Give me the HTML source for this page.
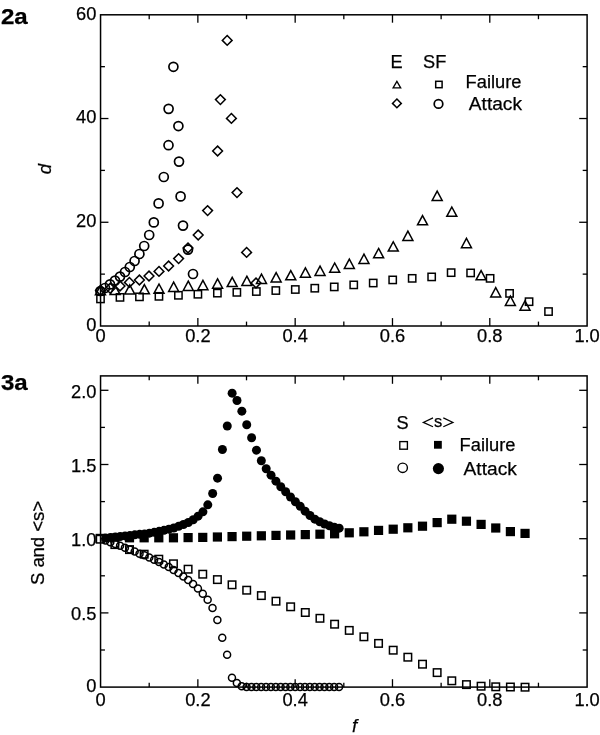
<!DOCTYPE html>
<html><head><meta charset="utf-8"><title>Figure</title>
<style>html,body{margin:0;padding:0;background:#fff;}svg{display:block;will-change:transform;filter:grayscale(1);}text{fill:#000;stroke:#000;stroke-width:0.25px;}</style>
</head><body>
<svg width="600" height="735" viewBox="0 0 600 735">
<rect width="600" height="735" fill="#fff"/>
<rect x="100.55" y="14.80" width="486.55" height="311.20" fill="none" stroke="#000" stroke-width="1.5"/>
<line x1="149.20" y1="326.00" x2="149.20" y2="321.60" stroke="#000" stroke-width="1.3"/>
<line x1="149.20" y1="14.80" x2="149.20" y2="19.20" stroke="#000" stroke-width="1.3"/>
<line x1="197.86" y1="326.00" x2="197.86" y2="318.10" stroke="#000" stroke-width="1.3"/>
<line x1="197.86" y1="14.80" x2="197.86" y2="22.70" stroke="#000" stroke-width="1.3"/>
<line x1="246.51" y1="326.00" x2="246.51" y2="321.60" stroke="#000" stroke-width="1.3"/>
<line x1="246.51" y1="14.80" x2="246.51" y2="19.20" stroke="#000" stroke-width="1.3"/>
<line x1="295.17" y1="326.00" x2="295.17" y2="318.10" stroke="#000" stroke-width="1.3"/>
<line x1="295.17" y1="14.80" x2="295.17" y2="22.70" stroke="#000" stroke-width="1.3"/>
<line x1="343.82" y1="326.00" x2="343.82" y2="321.60" stroke="#000" stroke-width="1.3"/>
<line x1="343.82" y1="14.80" x2="343.82" y2="19.20" stroke="#000" stroke-width="1.3"/>
<line x1="392.48" y1="326.00" x2="392.48" y2="318.10" stroke="#000" stroke-width="1.3"/>
<line x1="392.48" y1="14.80" x2="392.48" y2="22.70" stroke="#000" stroke-width="1.3"/>
<line x1="441.13" y1="326.00" x2="441.13" y2="321.60" stroke="#000" stroke-width="1.3"/>
<line x1="441.13" y1="14.80" x2="441.13" y2="19.20" stroke="#000" stroke-width="1.3"/>
<line x1="489.79" y1="326.00" x2="489.79" y2="318.10" stroke="#000" stroke-width="1.3"/>
<line x1="489.79" y1="14.80" x2="489.79" y2="22.70" stroke="#000" stroke-width="1.3"/>
<line x1="538.45" y1="326.00" x2="538.45" y2="321.60" stroke="#000" stroke-width="1.3"/>
<line x1="538.45" y1="14.80" x2="538.45" y2="19.20" stroke="#000" stroke-width="1.3"/>
<line x1="100.55" y1="274.13" x2="104.95" y2="274.13" stroke="#000" stroke-width="1.3"/>
<line x1="587.10" y1="274.13" x2="582.70" y2="274.13" stroke="#000" stroke-width="1.3"/>
<line x1="100.55" y1="222.27" x2="108.45" y2="222.27" stroke="#000" stroke-width="1.3"/>
<line x1="587.10" y1="222.27" x2="579.20" y2="222.27" stroke="#000" stroke-width="1.3"/>
<line x1="100.55" y1="170.40" x2="104.95" y2="170.40" stroke="#000" stroke-width="1.3"/>
<line x1="587.10" y1="170.40" x2="582.70" y2="170.40" stroke="#000" stroke-width="1.3"/>
<line x1="100.55" y1="118.53" x2="108.45" y2="118.53" stroke="#000" stroke-width="1.3"/>
<line x1="587.10" y1="118.53" x2="579.20" y2="118.53" stroke="#000" stroke-width="1.3"/>
<line x1="100.55" y1="66.67" x2="104.95" y2="66.67" stroke="#000" stroke-width="1.3"/>
<line x1="587.10" y1="66.67" x2="582.70" y2="66.67" stroke="#000" stroke-width="1.3"/>
<text x="96.40" y="330.70" font-size="18.3" text-anchor="end" font-family="Liberation Sans, sans-serif" >0</text>
<text x="96.40" y="226.97" font-size="18.3" text-anchor="end" font-family="Liberation Sans, sans-serif" >20</text>
<text x="96.40" y="123.23" font-size="18.3" text-anchor="end" font-family="Liberation Sans, sans-serif" >40</text>
<text x="96.40" y="19.50" font-size="18.3" text-anchor="end" font-family="Liberation Sans, sans-serif" >60</text>
<text x="100.55" y="342.40" font-size="18.3" text-anchor="middle" font-family="Liberation Sans, sans-serif" >0</text>
<text x="197.86" y="342.40" font-size="18.3" text-anchor="middle" font-family="Liberation Sans, sans-serif" >0.2</text>
<text x="295.17" y="342.40" font-size="18.3" text-anchor="middle" font-family="Liberation Sans, sans-serif" >0.4</text>
<text x="392.48" y="342.40" font-size="18.3" text-anchor="middle" font-family="Liberation Sans, sans-serif" >0.6</text>
<text x="489.79" y="342.40" font-size="18.3" text-anchor="middle" font-family="Liberation Sans, sans-serif" >0.8</text>
<text x="587.10" y="342.40" font-size="18.3" text-anchor="middle" font-family="Liberation Sans, sans-serif" >1.0</text>
<text transform="translate(51,169) rotate(-90)" font-size="18.6" font-style="italic" text-anchor="middle" font-family="Liberation Sans, sans-serif">d</text>
<text x="0.9" y="23.9" font-size="22" font-weight="bold" font-family="Liberation Sans, sans-serif" stroke="#000" stroke-width="1.1" textLength="26.8" lengthAdjust="spacingAndGlyphs">2a</text>
<rect x="96.85" y="295.28" width="7.30" height="7.30" fill="none" stroke="#000" stroke-width="1.5"/>
<rect x="116.33" y="293.72" width="7.30" height="7.30" fill="none" stroke="#000" stroke-width="1.5"/>
<rect x="135.81" y="293.20" width="7.30" height="7.30" fill="none" stroke="#000" stroke-width="1.5"/>
<rect x="155.29" y="292.69" width="7.30" height="7.30" fill="none" stroke="#000" stroke-width="1.5"/>
<rect x="174.77" y="291.65" width="7.30" height="7.30" fill="none" stroke="#000" stroke-width="1.5"/>
<rect x="194.25" y="290.61" width="7.30" height="7.30" fill="none" stroke="#000" stroke-width="1.5"/>
<rect x="213.73" y="289.48" width="7.30" height="7.30" fill="none" stroke="#000" stroke-width="1.5"/>
<rect x="233.21" y="288.71" width="7.30" height="7.30" fill="none" stroke="#000" stroke-width="1.5"/>
<rect x="252.69" y="287.88" width="7.30" height="7.30" fill="none" stroke="#000" stroke-width="1.5"/>
<rect x="272.17" y="286.89" width="7.30" height="7.30" fill="none" stroke="#000" stroke-width="1.5"/>
<rect x="291.65" y="285.85" width="7.30" height="7.30" fill="none" stroke="#000" stroke-width="1.5"/>
<rect x="311.13" y="284.56" width="7.30" height="7.30" fill="none" stroke="#000" stroke-width="1.5"/>
<rect x="330.61" y="283.26" width="7.30" height="7.30" fill="none" stroke="#000" stroke-width="1.5"/>
<rect x="350.09" y="281.24" width="7.30" height="7.30" fill="none" stroke="#000" stroke-width="1.5"/>
<rect x="369.57" y="279.37" width="7.30" height="7.30" fill="none" stroke="#000" stroke-width="1.5"/>
<rect x="389.05" y="276.26" width="7.30" height="7.30" fill="none" stroke="#000" stroke-width="1.5"/>
<rect x="408.53" y="274.70" width="7.30" height="7.30" fill="none" stroke="#000" stroke-width="1.5"/>
<rect x="428.01" y="273.25" width="7.30" height="7.30" fill="none" stroke="#000" stroke-width="1.5"/>
<rect x="447.49" y="269.00" width="7.30" height="7.30" fill="none" stroke="#000" stroke-width="1.5"/>
<rect x="466.97" y="269.26" width="7.30" height="7.30" fill="none" stroke="#000" stroke-width="1.5"/>
<rect x="486.45" y="274.70" width="7.30" height="7.30" fill="none" stroke="#000" stroke-width="1.5"/>
<rect x="505.93" y="289.74" width="7.30" height="7.30" fill="none" stroke="#000" stroke-width="1.5"/>
<rect x="525.41" y="298.04" width="7.30" height="7.30" fill="none" stroke="#000" stroke-width="1.5"/>
<rect x="544.89" y="307.90" width="7.30" height="7.30" fill="none" stroke="#000" stroke-width="1.5"/>
<path d="M100.45 285.57L105.45 294.87L95.45 294.87Z" fill="none" stroke="#000" stroke-width="1.5" stroke-linejoin="miter"/>
<path d="M115.09 285.31L120.09 294.61L110.09 294.61Z" fill="none" stroke="#000" stroke-width="1.5" stroke-linejoin="miter"/>
<path d="M129.73 284.79L134.73 294.09L124.73 294.09Z" fill="none" stroke="#000" stroke-width="1.5" stroke-linejoin="miter"/>
<path d="M144.37 284.53L149.37 293.83L139.37 293.83Z" fill="none" stroke="#000" stroke-width="1.5" stroke-linejoin="miter"/>
<path d="M159.01 284.01L164.01 293.31L154.01 293.31Z" fill="none" stroke="#000" stroke-width="1.5" stroke-linejoin="miter"/>
<path d="M173.65 282.20L178.65 291.50L168.65 291.50Z" fill="none" stroke="#000" stroke-width="1.5" stroke-linejoin="miter"/>
<path d="M188.29 281.16L193.29 290.46L183.29 290.46Z" fill="none" stroke="#000" stroke-width="1.5" stroke-linejoin="miter"/>
<path d="M202.93 280.38L207.93 289.68L197.93 289.68Z" fill="none" stroke="#000" stroke-width="1.5" stroke-linejoin="miter"/>
<path d="M217.57 278.83L222.57 288.13L212.57 288.13Z" fill="none" stroke="#000" stroke-width="1.5" stroke-linejoin="miter"/>
<path d="M232.21 277.27L237.21 286.57L227.21 286.57Z" fill="none" stroke="#000" stroke-width="1.5" stroke-linejoin="miter"/>
<path d="M246.85 276.23L251.85 285.53L241.85 285.53Z" fill="none" stroke="#000" stroke-width="1.5" stroke-linejoin="miter"/>
<path d="M261.49 274.16L266.49 283.46L256.49 283.46Z" fill="none" stroke="#000" stroke-width="1.5" stroke-linejoin="miter"/>
<path d="M276.13 272.60L281.13 281.90L271.13 281.90Z" fill="none" stroke="#000" stroke-width="1.5" stroke-linejoin="miter"/>
<path d="M290.77 270.53L295.77 279.83L285.77 279.83Z" fill="none" stroke="#000" stroke-width="1.5" stroke-linejoin="miter"/>
<path d="M305.41 267.93L310.41 277.23L300.41 277.23Z" fill="none" stroke="#000" stroke-width="1.5" stroke-linejoin="miter"/>
<path d="M320.05 266.12L325.05 275.42L315.05 275.42Z" fill="none" stroke="#000" stroke-width="1.5" stroke-linejoin="miter"/>
<path d="M334.69 263.01L339.69 272.31L329.69 272.31Z" fill="none" stroke="#000" stroke-width="1.5" stroke-linejoin="miter"/>
<path d="M349.33 259.12L354.33 268.42L344.33 268.42Z" fill="none" stroke="#000" stroke-width="1.5" stroke-linejoin="miter"/>
<path d="M363.97 254.19L368.97 263.49L358.97 263.49Z" fill="none" stroke="#000" stroke-width="1.5" stroke-linejoin="miter"/>
<path d="M378.61 248.48L383.61 257.78L373.61 257.78Z" fill="none" stroke="#000" stroke-width="1.5" stroke-linejoin="miter"/>
<path d="M393.25 241.74L398.25 251.04L388.25 251.04Z" fill="none" stroke="#000" stroke-width="1.5" stroke-linejoin="miter"/>
<path d="M407.89 231.11L412.89 240.41L402.89 240.41Z" fill="none" stroke="#000" stroke-width="1.5" stroke-linejoin="miter"/>
<path d="M422.53 215.55L427.53 224.85L417.53 224.85Z" fill="none" stroke="#000" stroke-width="1.5" stroke-linejoin="miter"/>
<path d="M437.17 191.17L442.17 200.47L432.17 200.47Z" fill="none" stroke="#000" stroke-width="1.5" stroke-linejoin="miter"/>
<path d="M451.81 206.99L456.81 216.29L446.81 216.29Z" fill="none" stroke="#000" stroke-width="1.5" stroke-linejoin="miter"/>
<path d="M466.45 238.37L471.45 247.67L461.45 247.67Z" fill="none" stroke="#000" stroke-width="1.5" stroke-linejoin="miter"/>
<path d="M481.09 270.53L486.09 279.83L476.09 279.83Z" fill="none" stroke="#000" stroke-width="1.5" stroke-linejoin="miter"/>
<path d="M495.73 287.64L500.73 296.94L490.73 296.94Z" fill="none" stroke="#000" stroke-width="1.5" stroke-linejoin="miter"/>
<path d="M510.37 296.20L515.37 305.50L505.37 305.50Z" fill="none" stroke="#000" stroke-width="1.5" stroke-linejoin="miter"/>
<path d="M525.01 300.87L530.01 310.17L520.01 310.17Z" fill="none" stroke="#000" stroke-width="1.5" stroke-linejoin="miter"/>
<path d="M100.50 285.50L105.40 290.40L100.50 295.30L95.60 290.40Z" fill="none" stroke="#000" stroke-width="1.5" stroke-linejoin="miter"/>
<path d="M110.20 283.40L115.10 288.30L110.20 293.20L105.30 288.30Z" fill="none" stroke="#000" stroke-width="1.5" stroke-linejoin="miter"/>
<path d="M120.00 281.10L124.90 286.00L120.00 290.90L115.10 286.00Z" fill="none" stroke="#000" stroke-width="1.5" stroke-linejoin="miter"/>
<path d="M129.40 277.50L134.30 282.40L129.40 287.30L124.50 282.40Z" fill="none" stroke="#000" stroke-width="1.5" stroke-linejoin="miter"/>
<path d="M139.40 275.10L144.30 280.00L139.40 284.90L134.50 280.00Z" fill="none" stroke="#000" stroke-width="1.5" stroke-linejoin="miter"/>
<path d="M149.00 271.10L153.90 276.00L149.00 280.90L144.10 276.00Z" fill="none" stroke="#000" stroke-width="1.5" stroke-linejoin="miter"/>
<path d="M159.00 266.50L163.90 271.40L159.00 276.30L154.10 271.40Z" fill="none" stroke="#000" stroke-width="1.5" stroke-linejoin="miter"/>
<path d="M168.60 261.10L173.50 266.00L168.60 270.90L163.70 266.00Z" fill="none" stroke="#000" stroke-width="1.5" stroke-linejoin="miter"/>
<path d="M178.60 253.70L183.50 258.60L178.60 263.50L173.70 258.60Z" fill="none" stroke="#000" stroke-width="1.5" stroke-linejoin="miter"/>
<path d="M188.00 243.10L192.90 248.00L188.00 252.90L183.10 248.00Z" fill="none" stroke="#000" stroke-width="1.5" stroke-linejoin="miter"/>
<path d="M198.20 230.10L203.10 235.00L198.20 239.90L193.30 235.00Z" fill="none" stroke="#000" stroke-width="1.5" stroke-linejoin="miter"/>
<path d="M207.60 205.70L212.50 210.60L207.60 215.50L202.70 210.60Z" fill="none" stroke="#000" stroke-width="1.5" stroke-linejoin="miter"/>
<path d="M217.60 146.10L222.50 151.00L217.60 155.90L212.70 151.00Z" fill="none" stroke="#000" stroke-width="1.5" stroke-linejoin="miter"/>
<path d="M220.40 94.70L225.30 99.60L220.40 104.50L215.50 99.60Z" fill="none" stroke="#000" stroke-width="1.5" stroke-linejoin="miter"/>
<path d="M227.20 35.50L232.10 40.40L227.20 45.30L222.30 40.40Z" fill="none" stroke="#000" stroke-width="1.5" stroke-linejoin="miter"/>
<path d="M231.40 113.50L236.30 118.40L231.40 123.30L226.50 118.40Z" fill="none" stroke="#000" stroke-width="1.5" stroke-linejoin="miter"/>
<path d="M237.00 187.70L241.90 192.60L237.00 197.50L232.10 192.60Z" fill="none" stroke="#000" stroke-width="1.5" stroke-linejoin="miter"/>
<path d="M246.60 247.50L251.50 252.40L246.60 257.30L241.70 252.40Z" fill="none" stroke="#000" stroke-width="1.5" stroke-linejoin="miter"/>
<path d="M256.00 278.10L260.90 283.00L256.00 287.90L251.10 283.00Z" fill="none" stroke="#000" stroke-width="1.5" stroke-linejoin="miter"/>
<circle cx="100.40" cy="291.00" r="4.50" fill="none" stroke="#000" stroke-width="1.7"/>
<circle cx="105.00" cy="288.00" r="4.50" fill="none" stroke="#000" stroke-width="1.7"/>
<circle cx="110.00" cy="284.40" r="4.50" fill="none" stroke="#000" stroke-width="1.7"/>
<circle cx="115.00" cy="280.60" r="4.50" fill="none" stroke="#000" stroke-width="1.7"/>
<circle cx="120.00" cy="276.60" r="4.50" fill="none" stroke="#000" stroke-width="1.7"/>
<circle cx="125.00" cy="272.00" r="4.50" fill="none" stroke="#000" stroke-width="1.7"/>
<circle cx="129.80" cy="267.00" r="4.50" fill="none" stroke="#000" stroke-width="1.7"/>
<circle cx="134.60" cy="261.00" r="4.50" fill="none" stroke="#000" stroke-width="1.7"/>
<circle cx="139.40" cy="254.00" r="4.50" fill="none" stroke="#000" stroke-width="1.7"/>
<circle cx="144.20" cy="246.00" r="4.50" fill="none" stroke="#000" stroke-width="1.7"/>
<circle cx="149.20" cy="235.00" r="4.50" fill="none" stroke="#000" stroke-width="1.7"/>
<circle cx="153.80" cy="222.40" r="4.50" fill="none" stroke="#000" stroke-width="1.7"/>
<circle cx="158.60" cy="203.40" r="4.50" fill="none" stroke="#000" stroke-width="1.7"/>
<circle cx="163.80" cy="177.00" r="4.50" fill="none" stroke="#000" stroke-width="1.7"/>
<circle cx="168.50" cy="145.20" r="4.50" fill="none" stroke="#000" stroke-width="1.7"/>
<circle cx="168.60" cy="108.85" r="4.50" fill="none" stroke="#000" stroke-width="1.7"/>
<circle cx="173.40" cy="66.80" r="4.50" fill="none" stroke="#000" stroke-width="1.7"/>
<circle cx="178.40" cy="126.05" r="4.50" fill="none" stroke="#000" stroke-width="1.7"/>
<circle cx="179.00" cy="161.60" r="4.50" fill="none" stroke="#000" stroke-width="1.7"/>
<circle cx="180.60" cy="196.40" r="4.50" fill="none" stroke="#000" stroke-width="1.7"/>
<circle cx="183.00" cy="225.60" r="4.50" fill="none" stroke="#000" stroke-width="1.7"/>
<circle cx="188.00" cy="249.60" r="4.50" fill="none" stroke="#000" stroke-width="1.7"/>
<circle cx="193.00" cy="274.00" r="4.50" fill="none" stroke="#000" stroke-width="1.7"/>
<text x="390.50" y="68.10" font-size="18.2" text-anchor="start" font-family="Liberation Sans, sans-serif" >E</text>
<text x="423.00" y="68.10" font-size="18.2" text-anchor="start" font-family="Liberation Sans, sans-serif" >SF</text>
<text x="465.60" y="88.00" font-size="18.3" text-anchor="start" font-family="Liberation Sans, sans-serif" >Failure</text>
<text x="468.80" y="110.30" font-size="18.3" text-anchor="start" font-family="Liberation Sans, sans-serif" textLength="53.2" lengthAdjust="spacingAndGlyphs">Attack</text>
<path d="M396.9 81.3L400.7 87.85L393.1 87.85Z" fill="none" stroke="#000" stroke-width="1.3"/>
<rect x="435.70" y="81.30" width="6.40" height="6.40" fill="none" stroke="#000" stroke-width="1.5"/>
<path d="M396.90 99.00L401.30 103.40L396.90 107.80L392.50 103.40Z" fill="none" stroke="#000" stroke-width="1.5" stroke-linejoin="miter"/>
<circle cx="438.50" cy="103.90" r="4.30" fill="none" stroke="#000" stroke-width="1.7"/>
<text x="96.40" y="691.70" font-size="18.3" text-anchor="end" font-family="Liberation Sans, sans-serif" >0</text>
<text x="96.40" y="620.20" font-size="18.3" text-anchor="end" font-family="Liberation Sans, sans-serif" >0.5</text>
<text x="96.40" y="545.50" font-size="18.3" text-anchor="end" font-family="Liberation Sans, sans-serif" >1.0</text>
<text x="96.40" y="471.60" font-size="18.3" text-anchor="end" font-family="Liberation Sans, sans-serif" >1.5</text>
<text x="96.40" y="397.70" font-size="18.3" text-anchor="end" font-family="Liberation Sans, sans-serif" >2.0</text>
<text x="100.55" y="706.20" font-size="18.3" text-anchor="middle" font-family="Liberation Sans, sans-serif" >0</text>
<text x="197.86" y="706.20" font-size="18.3" text-anchor="middle" font-family="Liberation Sans, sans-serif" >0.2</text>
<text x="295.17" y="706.20" font-size="18.3" text-anchor="middle" font-family="Liberation Sans, sans-serif" >0.4</text>
<text x="392.48" y="706.20" font-size="18.3" text-anchor="middle" font-family="Liberation Sans, sans-serif" >0.6</text>
<text x="489.79" y="706.20" font-size="18.3" text-anchor="middle" font-family="Liberation Sans, sans-serif" >0.8</text>
<text x="587.10" y="706.20" font-size="18.3" text-anchor="middle" font-family="Liberation Sans, sans-serif" >1.0</text>
<text x="352" y="732" font-size="18.6" font-style="italic" font-family="Liberation Sans, sans-serif">f</text>
<text transform="translate(44,543) rotate(-90)" font-size="18.6" text-anchor="middle" font-family="Liberation Sans, sans-serif" textLength="84" lengthAdjust="spacing">S and &lt;s&gt;</text>
<text x="0.9" y="389.7" font-size="22" font-weight="bold" font-family="Liberation Sans, sans-serif" stroke="#000" stroke-width="1.1" textLength="26.8" lengthAdjust="spacingAndGlyphs">3a</text>
<rect x="95.60" y="533.80" width="9.20" height="9.20" fill="#000" />
<rect x="110.25" y="533.60" width="9.20" height="9.20" fill="#000" />
<rect x="124.90" y="533.20" width="9.20" height="9.20" fill="#000" />
<rect x="139.55" y="533.20" width="9.20" height="9.20" fill="#000" />
<rect x="154.20" y="533.20" width="9.20" height="9.20" fill="#000" />
<rect x="168.85" y="533.20" width="9.20" height="9.20" fill="#000" />
<rect x="183.50" y="533.00" width="9.20" height="9.20" fill="#000" />
<rect x="198.15" y="532.80" width="9.20" height="9.20" fill="#000" />
<rect x="212.80" y="532.40" width="9.20" height="9.20" fill="#000" />
<rect x="227.45" y="532.00" width="9.20" height="9.20" fill="#000" />
<rect x="242.10" y="531.60" width="9.20" height="9.20" fill="#000" />
<rect x="256.75" y="531.20" width="9.20" height="9.20" fill="#000" />
<rect x="271.40" y="530.80" width="9.20" height="9.20" fill="#000" />
<rect x="286.05" y="530.40" width="9.20" height="9.20" fill="#000" />
<rect x="300.70" y="530.00" width="9.20" height="9.20" fill="#000" />
<rect x="315.35" y="529.60" width="9.20" height="9.20" fill="#000" />
<rect x="330.00" y="529.20" width="9.20" height="9.20" fill="#000" />
<rect x="344.65" y="528.20" width="9.20" height="9.20" fill="#000" />
<rect x="359.30" y="527.20" width="9.20" height="9.20" fill="#000" />
<rect x="373.95" y="525.80" width="9.20" height="9.20" fill="#000" />
<rect x="388.60" y="524.60" width="9.20" height="9.20" fill="#000" />
<rect x="403.25" y="523.20" width="9.20" height="9.20" fill="#000" />
<rect x="417.90" y="521.60" width="9.20" height="9.20" fill="#000" />
<rect x="432.55" y="518.00" width="9.20" height="9.20" fill="#000" />
<rect x="447.20" y="514.60" width="9.20" height="9.20" fill="#000" />
<rect x="461.85" y="516.60" width="9.20" height="9.20" fill="#000" />
<rect x="476.50" y="519.80" width="9.20" height="9.20" fill="#000" />
<rect x="491.15" y="523.40" width="9.20" height="9.20" fill="#000" />
<rect x="505.80" y="527.00" width="9.20" height="9.20" fill="#000" />
<rect x="520.45" y="528.80" width="9.20" height="9.20" fill="#000" />
<rect x="96.45" y="535.45" width="7.50" height="7.50" fill="#fff" stroke="#000" stroke-width="1.5"/>
<rect x="111.10" y="540.85" width="7.50" height="7.50" fill="#fff" stroke="#000" stroke-width="1.5"/>
<rect x="125.75" y="545.85" width="7.50" height="7.50" fill="#fff" stroke="#000" stroke-width="1.5"/>
<rect x="140.40" y="550.45" width="7.50" height="7.50" fill="#fff" stroke="#000" stroke-width="1.5"/>
<rect x="155.05" y="555.45" width="7.50" height="7.50" fill="#fff" stroke="#000" stroke-width="1.5"/>
<rect x="169.70" y="560.05" width="7.50" height="7.50" fill="#fff" stroke="#000" stroke-width="1.5"/>
<rect x="184.35" y="565.45" width="7.50" height="7.50" fill="#fff" stroke="#000" stroke-width="1.5"/>
<rect x="199.00" y="570.45" width="7.50" height="7.50" fill="#fff" stroke="#000" stroke-width="1.5"/>
<rect x="213.65" y="575.85" width="7.50" height="7.50" fill="#fff" stroke="#000" stroke-width="1.5"/>
<rect x="228.30" y="581.05" width="7.50" height="7.50" fill="#fff" stroke="#000" stroke-width="1.5"/>
<rect x="242.95" y="586.45" width="7.50" height="7.50" fill="#fff" stroke="#000" stroke-width="1.5"/>
<rect x="257.60" y="591.85" width="7.50" height="7.50" fill="#fff" stroke="#000" stroke-width="1.5"/>
<rect x="272.25" y="597.45" width="7.50" height="7.50" fill="#fff" stroke="#000" stroke-width="1.5"/>
<rect x="286.90" y="603.05" width="7.50" height="7.50" fill="#fff" stroke="#000" stroke-width="1.5"/>
<rect x="301.55" y="608.75" width="7.50" height="7.50" fill="#fff" stroke="#000" stroke-width="1.5"/>
<rect x="316.20" y="614.55" width="7.50" height="7.50" fill="#fff" stroke="#000" stroke-width="1.5"/>
<rect x="330.85" y="620.45" width="7.50" height="7.50" fill="#fff" stroke="#000" stroke-width="1.5"/>
<rect x="345.50" y="626.65" width="7.50" height="7.50" fill="#fff" stroke="#000" stroke-width="1.5"/>
<rect x="360.15" y="633.05" width="7.50" height="7.50" fill="#fff" stroke="#000" stroke-width="1.5"/>
<rect x="374.80" y="639.65" width="7.50" height="7.50" fill="#fff" stroke="#000" stroke-width="1.5"/>
<rect x="389.45" y="646.45" width="7.50" height="7.50" fill="#fff" stroke="#000" stroke-width="1.5"/>
<rect x="404.10" y="653.45" width="7.50" height="7.50" fill="#fff" stroke="#000" stroke-width="1.5"/>
<rect x="418.75" y="660.45" width="7.50" height="7.50" fill="#fff" stroke="#000" stroke-width="1.5"/>
<rect x="433.40" y="668.85" width="7.50" height="7.50" fill="#fff" stroke="#000" stroke-width="1.5"/>
<rect x="448.05" y="677.05" width="7.50" height="7.50" fill="#fff" stroke="#000" stroke-width="1.5"/>
<rect x="462.70" y="680.85" width="7.50" height="7.50" fill="#fff" stroke="#000" stroke-width="1.5"/>
<rect x="477.35" y="682.45" width="7.50" height="7.50" fill="#fff" stroke="#000" stroke-width="1.5"/>
<rect x="492.00" y="683.05" width="7.50" height="7.50" fill="#fff" stroke="#000" stroke-width="1.5"/>
<rect x="506.65" y="683.25" width="7.50" height="7.50" fill="#fff" stroke="#000" stroke-width="1.5"/>
<rect x="521.30" y="683.45" width="7.50" height="7.50" fill="#fff" stroke="#000" stroke-width="1.5"/>
<circle cx="105.47" cy="540.46" r="3.50" fill="none" stroke="#000" stroke-width="1.5"/>
<circle cx="110.33" cy="542.18" r="3.50" fill="none" stroke="#000" stroke-width="1.5"/>
<circle cx="115.20" cy="543.95" r="3.50" fill="none" stroke="#000" stroke-width="1.5"/>
<circle cx="120.06" cy="545.78" r="3.50" fill="none" stroke="#000" stroke-width="1.5"/>
<circle cx="124.93" cy="547.67" r="3.50" fill="none" stroke="#000" stroke-width="1.5"/>
<circle cx="129.80" cy="549.61" r="3.50" fill="none" stroke="#000" stroke-width="1.5"/>
<circle cx="134.66" cy="551.61" r="3.50" fill="none" stroke="#000" stroke-width="1.5"/>
<circle cx="139.53" cy="553.66" r="3.50" fill="none" stroke="#000" stroke-width="1.5"/>
<circle cx="144.39" cy="555.30" r="3.50" fill="none" stroke="#000" stroke-width="1.5"/>
<circle cx="149.26" cy="557.50" r="3.50" fill="none" stroke="#000" stroke-width="1.5"/>
<circle cx="154.13" cy="559.70" r="3.50" fill="none" stroke="#000" stroke-width="1.5"/>
<circle cx="158.99" cy="562.10" r="3.50" fill="none" stroke="#000" stroke-width="1.5"/>
<circle cx="163.86" cy="564.50" r="3.50" fill="none" stroke="#000" stroke-width="1.5"/>
<circle cx="168.72" cy="567.10" r="3.50" fill="none" stroke="#000" stroke-width="1.5"/>
<circle cx="173.59" cy="570.10" r="3.50" fill="none" stroke="#000" stroke-width="1.5"/>
<circle cx="178.46" cy="573.10" r="3.50" fill="none" stroke="#000" stroke-width="1.5"/>
<circle cx="183.32" cy="576.50" r="3.50" fill="none" stroke="#000" stroke-width="1.5"/>
<circle cx="188.19" cy="580.10" r="3.50" fill="none" stroke="#000" stroke-width="1.5"/>
<circle cx="193.05" cy="584.10" r="3.50" fill="none" stroke="#000" stroke-width="1.5"/>
<circle cx="197.92" cy="588.50" r="3.50" fill="none" stroke="#000" stroke-width="1.5"/>
<circle cx="202.79" cy="593.70" r="3.50" fill="none" stroke="#000" stroke-width="1.5"/>
<circle cx="207.65" cy="599.70" r="3.50" fill="none" stroke="#000" stroke-width="1.5"/>
<circle cx="212.52" cy="607.90" r="3.50" fill="none" stroke="#000" stroke-width="1.5"/>
<circle cx="217.38" cy="619.90" r="3.50" fill="none" stroke="#000" stroke-width="1.5"/>
<circle cx="222.25" cy="637.70" r="3.50" fill="none" stroke="#000" stroke-width="1.5"/>
<circle cx="227.12" cy="654.70" r="3.50" fill="none" stroke="#000" stroke-width="1.5"/>
<circle cx="231.98" cy="677.70" r="3.50" fill="none" stroke="#000" stroke-width="1.5"/>
<circle cx="236.85" cy="683.10" r="3.50" fill="none" stroke="#000" stroke-width="1.5"/>
<circle cx="241.71" cy="686.30" r="3.50" fill="none" stroke="#000" stroke-width="1.5"/>
<circle cx="246.58" cy="687.00" r="3.50" fill="none" stroke="#000" stroke-width="1.5"/>
<circle cx="251.45" cy="687.00" r="3.50" fill="none" stroke="#000" stroke-width="1.5"/>
<circle cx="256.31" cy="687.00" r="3.50" fill="none" stroke="#000" stroke-width="1.5"/>
<circle cx="261.18" cy="687.00" r="3.50" fill="none" stroke="#000" stroke-width="1.5"/>
<circle cx="266.04" cy="687.00" r="3.50" fill="none" stroke="#000" stroke-width="1.5"/>
<circle cx="270.91" cy="687.00" r="3.50" fill="none" stroke="#000" stroke-width="1.5"/>
<circle cx="275.78" cy="687.00" r="3.50" fill="none" stroke="#000" stroke-width="1.5"/>
<circle cx="280.64" cy="687.00" r="3.50" fill="none" stroke="#000" stroke-width="1.5"/>
<circle cx="285.51" cy="687.00" r="3.50" fill="none" stroke="#000" stroke-width="1.5"/>
<circle cx="290.37" cy="687.00" r="3.50" fill="none" stroke="#000" stroke-width="1.5"/>
<circle cx="295.24" cy="687.00" r="3.50" fill="none" stroke="#000" stroke-width="1.5"/>
<circle cx="300.11" cy="687.00" r="3.50" fill="none" stroke="#000" stroke-width="1.5"/>
<circle cx="304.97" cy="687.00" r="3.50" fill="none" stroke="#000" stroke-width="1.5"/>
<circle cx="309.84" cy="687.00" r="3.50" fill="none" stroke="#000" stroke-width="1.5"/>
<circle cx="314.70" cy="687.00" r="3.50" fill="none" stroke="#000" stroke-width="1.5"/>
<circle cx="319.57" cy="687.00" r="3.50" fill="none" stroke="#000" stroke-width="1.5"/>
<circle cx="324.44" cy="687.00" r="3.50" fill="none" stroke="#000" stroke-width="1.5"/>
<circle cx="329.30" cy="687.00" r="3.50" fill="none" stroke="#000" stroke-width="1.5"/>
<circle cx="334.17" cy="687.00" r="3.50" fill="none" stroke="#000" stroke-width="1.5"/>
<circle cx="339.03" cy="687.00" r="3.50" fill="none" stroke="#000" stroke-width="1.5"/>
<circle cx="105.62" cy="538.02" r="4.50" fill="#000" />
<circle cx="110.48" cy="537.50" r="4.50" fill="#000" />
<circle cx="115.35" cy="536.97" r="4.50" fill="#000" />
<circle cx="120.21" cy="536.45" r="4.50" fill="#000" />
<circle cx="125.08" cy="535.92" r="4.50" fill="#000" />
<circle cx="129.95" cy="535.40" r="4.50" fill="#000" />
<circle cx="134.81" cy="534.87" r="4.50" fill="#000" />
<circle cx="139.68" cy="534.35" r="4.50" fill="#000" />
<circle cx="144.54" cy="533.95" r="4.50" fill="#000" />
<circle cx="149.41" cy="533.15" r="4.50" fill="#000" />
<circle cx="154.28" cy="532.35" r="4.50" fill="#000" />
<circle cx="159.14" cy="531.35" r="4.50" fill="#000" />
<circle cx="164.01" cy="530.35" r="4.50" fill="#000" />
<circle cx="168.87" cy="529.15" r="4.50" fill="#000" />
<circle cx="173.74" cy="527.95" r="4.50" fill="#000" />
<circle cx="178.61" cy="526.35" r="4.50" fill="#000" />
<circle cx="183.47" cy="524.55" r="4.50" fill="#000" />
<circle cx="188.34" cy="522.55" r="4.50" fill="#000" />
<circle cx="193.20" cy="519.75" r="4.50" fill="#000" />
<circle cx="198.07" cy="516.15" r="4.50" fill="#000" />
<circle cx="202.94" cy="511.85" r="4.50" fill="#000" />
<circle cx="207.80" cy="504.85" r="4.50" fill="#000" />
<circle cx="212.67" cy="493.55" r="4.50" fill="#000" />
<circle cx="217.53" cy="478.15" r="4.50" fill="#000" />
<circle cx="222.40" cy="449.55" r="4.50" fill="#000" />
<circle cx="227.27" cy="425.95" r="4.50" fill="#000" />
<circle cx="232.13" cy="393.15" r="4.50" fill="#000" />
<circle cx="237.00" cy="400.55" r="4.50" fill="#000" />
<circle cx="241.86" cy="411.15" r="4.50" fill="#000" />
<circle cx="246.73" cy="424.75" r="4.50" fill="#000" />
<circle cx="251.60" cy="437.75" r="4.50" fill="#000" />
<circle cx="256.46" cy="450.15" r="4.50" fill="#000" />
<circle cx="261.33" cy="460.75" r="4.50" fill="#000" />
<circle cx="266.19" cy="468.75" r="4.50" fill="#000" />
<circle cx="271.06" cy="475.15" r="4.50" fill="#000" />
<circle cx="275.93" cy="481.15" r="4.50" fill="#000" />
<circle cx="280.79" cy="486.75" r="4.50" fill="#000" />
<circle cx="285.66" cy="491.75" r="4.50" fill="#000" />
<circle cx="290.52" cy="496.95" r="4.50" fill="#000" />
<circle cx="295.39" cy="501.75" r="4.50" fill="#000" />
<circle cx="300.26" cy="506.35" r="4.50" fill="#000" />
<circle cx="305.12" cy="511.15" r="4.50" fill="#000" />
<circle cx="309.99" cy="515.55" r="4.50" fill="#000" />
<circle cx="314.85" cy="519.15" r="4.50" fill="#000" />
<circle cx="319.72" cy="521.75" r="4.50" fill="#000" />
<circle cx="324.59" cy="523.95" r="4.50" fill="#000" />
<circle cx="329.45" cy="525.75" r="4.50" fill="#000" />
<circle cx="334.32" cy="527.15" r="4.50" fill="#000" />
<circle cx="339.18" cy="528.15" r="4.50" fill="#000" />
<rect x="100.55" y="375.90" width="486.55" height="311.20" fill="none" stroke="#000" stroke-width="1.5"/>
<line x1="149.20" y1="687.10" x2="149.20" y2="682.70" stroke="#000" stroke-width="1.3"/>
<line x1="149.20" y1="375.90" x2="149.20" y2="380.30" stroke="#000" stroke-width="1.3"/>
<line x1="197.86" y1="687.10" x2="197.86" y2="679.20" stroke="#000" stroke-width="1.3"/>
<line x1="197.86" y1="375.90" x2="197.86" y2="383.80" stroke="#000" stroke-width="1.3"/>
<line x1="246.51" y1="687.10" x2="246.51" y2="682.70" stroke="#000" stroke-width="1.3"/>
<line x1="246.51" y1="375.90" x2="246.51" y2="380.30" stroke="#000" stroke-width="1.3"/>
<line x1="295.17" y1="687.10" x2="295.17" y2="679.20" stroke="#000" stroke-width="1.3"/>
<line x1="295.17" y1="375.90" x2="295.17" y2="383.80" stroke="#000" stroke-width="1.3"/>
<line x1="343.82" y1="687.10" x2="343.82" y2="682.70" stroke="#000" stroke-width="1.3"/>
<line x1="343.82" y1="375.90" x2="343.82" y2="380.30" stroke="#000" stroke-width="1.3"/>
<line x1="392.48" y1="687.10" x2="392.48" y2="679.20" stroke="#000" stroke-width="1.3"/>
<line x1="392.48" y1="375.90" x2="392.48" y2="383.80" stroke="#000" stroke-width="1.3"/>
<line x1="441.13" y1="687.10" x2="441.13" y2="682.70" stroke="#000" stroke-width="1.3"/>
<line x1="441.13" y1="375.90" x2="441.13" y2="380.30" stroke="#000" stroke-width="1.3"/>
<line x1="489.79" y1="687.10" x2="489.79" y2="679.20" stroke="#000" stroke-width="1.3"/>
<line x1="489.79" y1="375.90" x2="489.79" y2="383.80" stroke="#000" stroke-width="1.3"/>
<line x1="538.45" y1="687.10" x2="538.45" y2="682.70" stroke="#000" stroke-width="1.3"/>
<line x1="538.45" y1="375.90" x2="538.45" y2="380.30" stroke="#000" stroke-width="1.3"/>
<line x1="100.55" y1="650.00" x2="104.95" y2="650.00" stroke="#000" stroke-width="1.3"/>
<line x1="587.10" y1="650.00" x2="582.70" y2="650.00" stroke="#000" stroke-width="1.3"/>
<line x1="100.55" y1="612.90" x2="108.45" y2="612.90" stroke="#000" stroke-width="1.3"/>
<line x1="587.10" y1="612.90" x2="579.20" y2="612.90" stroke="#000" stroke-width="1.3"/>
<line x1="100.55" y1="575.80" x2="104.95" y2="575.80" stroke="#000" stroke-width="1.3"/>
<line x1="587.10" y1="575.80" x2="582.70" y2="575.80" stroke="#000" stroke-width="1.3"/>
<line x1="100.55" y1="538.70" x2="108.45" y2="538.70" stroke="#000" stroke-width="1.3"/>
<line x1="587.10" y1="538.70" x2="579.20" y2="538.70" stroke="#000" stroke-width="1.3"/>
<line x1="100.55" y1="501.60" x2="104.95" y2="501.60" stroke="#000" stroke-width="1.3"/>
<line x1="587.10" y1="501.60" x2="582.70" y2="501.60" stroke="#000" stroke-width="1.3"/>
<line x1="100.55" y1="464.50" x2="108.45" y2="464.50" stroke="#000" stroke-width="1.3"/>
<line x1="587.10" y1="464.50" x2="579.20" y2="464.50" stroke="#000" stroke-width="1.3"/>
<line x1="100.55" y1="427.40" x2="104.95" y2="427.40" stroke="#000" stroke-width="1.3"/>
<line x1="587.10" y1="427.40" x2="582.70" y2="427.40" stroke="#000" stroke-width="1.3"/>
<line x1="100.55" y1="390.30" x2="108.45" y2="390.30" stroke="#000" stroke-width="1.3"/>
<line x1="587.10" y1="390.30" x2="579.20" y2="390.30" stroke="#000" stroke-width="1.3"/>
<text x="396.50" y="428.70" font-size="18.2" text-anchor="start" font-family="Liberation Sans, sans-serif" >S</text>
<polyline points="433,417.9 423.3,422.4 433,426.8" fill="none" stroke="#000" stroke-width="1.2"/>
<polyline points="443.3,417.9 453,422.4 443.3,426.8" fill="none" stroke="#000" stroke-width="1.2"/>
<text x="438.20" y="426.90" font-size="16.5" text-anchor="middle" font-family="Liberation Sans, sans-serif" >s</text>
<text x="459.60" y="451.00" font-size="18.3" text-anchor="start" font-family="Liberation Sans, sans-serif" >Failure</text>
<text x="463.60" y="475.00" font-size="18.3" text-anchor="start" font-family="Liberation Sans, sans-serif" textLength="53.2" lengthAdjust="spacingAndGlyphs">Attack</text>
<rect x="399.80" y="441.60" width="7.60" height="7.60" fill="none" stroke="#000" stroke-width="1.35"/>
<rect x="434.00" y="440.90" width="7.80" height="7.80" fill="#000" />
<circle cx="402.70" cy="467.80" r="4.70" fill="none" stroke="#000" stroke-width="1.4"/>
<circle cx="438.40" cy="468.60" r="5.55" fill="#000" />
</svg>
</body></html>
